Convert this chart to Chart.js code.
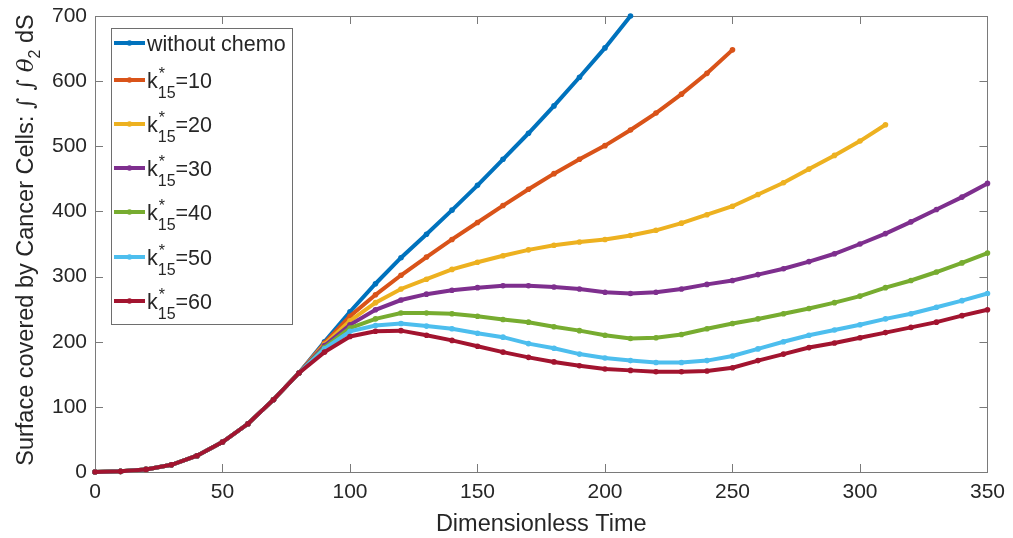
<!DOCTYPE html>
<html>
<head>
<meta charset="utf-8">
<script src="https://cdn.jsdelivr.net/npm/chart.js@4/dist/chart.umd.min.js"></script>
<style>
  body { margin: 0; background: #fff; }
  #wrap { width: 1013px; height: 538px; }
</style>
</head>
<body>
<div id="wrap"><canvas id="chart" width="1013" height="538"></canvas></div>
<script>
// time grid (dimensionless) and surface values per run
const times = [0, 10, 20, 30, 40, 50, 60, 70, 80, 90, 100, 110, 120, 130, 140, 150, 160, 170,
  180, 190, 200, 210, 220, 230, 240, 250, 260, 270, 280, 290, 300, 310, 320, 330, 340, 350];

const withoutChemo = [0, 1, 4, 11, 25, 46, 74, 111, 152, 200, 246, 289, 329, 365, 402, 440, 480, 520,
  562, 606, 651, 700];
const k10 = [0, 1, 4, 11, 25, 46, 74, 111, 152, 198, 239, 272, 302, 330, 357, 383, 409, 434,
  458, 480, 501, 525, 551, 580, 612, 648];
const k20 = [0, 1, 4, 11, 25, 46, 74, 111, 152, 196, 232, 260, 281, 296, 311, 322, 332, 341,
  348, 353, 357, 363, 371, 382, 395, 408, 426, 444, 465, 486, 508, 533];
const k30 = [0, 1, 4, 11, 25, 46, 74, 111, 152, 194, 226, 249, 264, 273, 279, 283, 286, 286,
  284, 281, 276, 274, 276, 281, 288, 294, 303, 312, 323, 335, 350, 366, 384, 403, 422, 443];
const k40 = [0, 1, 4, 11, 25, 46, 74, 111, 152, 191, 221, 235, 244, 244, 243, 239, 234, 230,
  223, 217, 210, 205, 206, 211, 220, 228, 235, 243, 251, 260, 270, 283, 294, 307, 321, 336];
const k50 = [0, 1, 4, 11, 25, 46, 74, 111, 152, 189, 216, 225, 228, 224, 220, 213, 207, 197,
  190, 181, 175, 171, 168, 168, 171, 178, 189, 200, 210, 218, 226, 235, 243, 253, 263, 274];
const k60 = [0, 1, 4, 11, 25, 46, 74, 111, 152, 184, 208, 216, 217, 210, 202, 193, 184, 176,
  169, 163, 158, 156, 154, 154, 155, 160, 171, 181, 191, 198, 206, 214, 222, 230, 240, 249];

const kValues = [null, '10', '20', '30', '40', '50', '60'];
const colors = ['#0072BD', '#D95319', '#EDB120', '#7E2F8E', '#77AC30', '#4DBEEE', '#A2142F'];
const xTicks = [0, 50, 100, 150, 200, 250, 300, 350];
const yTicks = [0, 100, 200, 300, 400, 500, 600, 700];

const SANS = '"Liberation Sans", Arial, Helvetica, sans-serif';
const SERIF = '"DejaVu Serif", "Liberation Serif", serif';
const INK = '#262626';

const runs = [withoutChemo, k10, k20, k30, k40, k50, k60];
const datasets = runs.map((vals, i) => ({
  label: kValues[i] ? 'k15=' + kValues[i] : 'without chemo',
  data: vals.map((v, j) => ({ x: times[j], y: v })),
  borderColor: colors[i],
  backgroundColor: colors[i],
  borderWidth: 4,
  pointRadius: 2.8,
  pointBorderWidth: 0,
  pointHoverRadius: 2.8,
  tension: 0,
  clip: 8,
  order: runs.length - 1 - i
}));

// box round the plot with inward ticks on all four sides
const frame = {
  id: 'frame',
  beforeDatasetsDraw(chart) {
    const { ctx, chartArea: a, scales: { x, y } } = chart;
    ctx.save();
    ctx.strokeStyle = '#7a7a7a';
    ctx.lineWidth = 1;
    ctx.beginPath();
    xTicks.forEach(v => {
      const px = Math.round(x.getPixelForValue(v)) + 0.5;
      ctx.moveTo(px, a.bottom); ctx.lineTo(px, a.bottom - 8);
      ctx.moveTo(px, a.top); ctx.lineTo(px, a.top + 8);
    });
    yTicks.forEach(v => {
      const py = Math.round(y.getPixelForValue(v)) + 0.5;
      ctx.moveTo(a.left, py); ctx.lineTo(a.left + 8, py);
      ctx.moveTo(a.right, py); ctx.lineTo(a.right - 8, py);
    });
    ctx.stroke();
    ctx.strokeRect(Math.round(a.left) + 0.5, Math.round(a.top) + 0.5,
      Math.round(a.right - a.left), Math.round(a.bottom - a.top));
    ctx.restore();
  }
};

// axis titles, the y one carries the integral with a subscript
const titles = {
  id: 'titles',
  afterDraw(chart) {
    const { ctx, chartArea: a } = chart;
    ctx.save();
    ctx.fillStyle = INK;
    ctx.textBaseline = 'alphabetic';

    ctx.font = '23.5px ' + SANS;
    ctx.textAlign = 'center';
    ctx.fillText('Dimensionless Time', (a.left + a.right) / 2, 531);

    const parts = [
      { t: 'Surface covered by Cancer Cells: ', f: '23.5px ' + SANS, dy: 0 },
      { t: '\u222B \u222B ', f: 'italic 22px ' + SERIF, dy: 0 },
      { t: '\u03B8', f: 'italic 23px ' + SERIF, dy: 0 },
      { t: '2', f: '16px ' + SANS, dy: 7 },
      { t: ' dS', f: '23.5px ' + SANS, dy: 0 }
    ];
    let total = 0;
    parts.forEach(p => { ctx.font = p.f; p.w = ctx.measureText(p.t).width; total += p.w; });
    ctx.translate(33, 240);
    ctx.rotate(-Math.PI / 2);
    ctx.textAlign = 'left';
    let cx = -total / 2;
    parts.forEach(p => {
      ctx.font = p.f;
      ctx.fillText(p.t, cx, p.dy);
      cx += p.w;
    });
    ctx.restore();
  }
};

// legend box in the upper left corner
const keyBox = {
  id: 'keyBox',
  afterDraw(chart) {
    const ctx = chart.ctx;
    const rows = [43, 80, 124, 168, 212, 257, 301];
    ctx.save();
    ctx.fillStyle = '#fff';
    ctx.fillRect(111, 28, 181, 296);
    ctx.strokeStyle = '#6e6e6e';
    ctx.lineWidth = 1;
    ctx.strokeRect(111.5, 28.5, 181, 296);

    rows.forEach((ry, i) => {
      ctx.strokeStyle = colors[i];
      ctx.lineWidth = 4;
      ctx.beginPath();
      ctx.moveTo(114, ry); ctx.lineTo(145, ry);
      ctx.stroke();
      ctx.fillStyle = colors[i];
      ctx.beginPath();
      ctx.arc(129.5, ry, 2.8, 0, Math.PI * 2);
      ctx.fill();

      ctx.fillStyle = INK;
      ctx.textAlign = 'left';
      ctx.textBaseline = 'alphabetic';
      ctx.font = '21.5px ' + SANS;
      if (!kValues[i]) {
        ctx.fillText('without chemo', 147, ry + 8);
        return;
      }
      let x = 147;
      ctx.fillText('k', x, ry + 8);
      x += ctx.measureText('k').width;
      ctx.font = '16px ' + SANS;
      ctx.fillText('*', x + 1, ry - 1);
      ctx.fillText('15', x, ry + 18);
      x += Math.max(ctx.measureText('15').width, ctx.measureText('*').width + 1);
      ctx.font = '21.5px ' + SANS;
      ctx.fillText('=' + kValues[i], x, ry + 8);
    });
    ctx.restore();
  }
};

new Chart(document.getElementById('chart'), {
  type: 'line',
  data: { datasets },
  plugins: [frame, titles, keyBox],
  options: {
    responsive: false,
    animation: false,
    layout: { padding: { top: 16, right: 25, left: 0, bottom: 0 } },
    plugins: { legend: { display: false }, tooltip: { enabled: false } },
    scales: {
      x: {
        type: 'linear',
        min: 0,
        max: 350,
        afterBuildTicks: s => { s.ticks = xTicks.map(v => ({ value: v })); },
        afterFit: s => { s.height = 66; },
        grid: { display: false, drawTicks: false },
        border: { display: false },
        ticks: { color: INK, font: { family: SANS, size: 21 }, padding: 8, maxRotation: 0 }
      },
      y: {
        min: 0,
        max: 700,
        afterBuildTicks: s => { s.ticks = yTicks.map(v => ({ value: v })); },
        afterFit: s => { s.width = 95; s.paddingTop = 0; s.paddingBottom = 0; },
        grid: { display: false, drawTicks: false },
        border: { display: false },
        ticks: { color: INK, font: { family: SANS, size: 21, lineHeight: 1 }, padding: 8 }
      }
    }
  }
});
</script>
</body>
</html>
